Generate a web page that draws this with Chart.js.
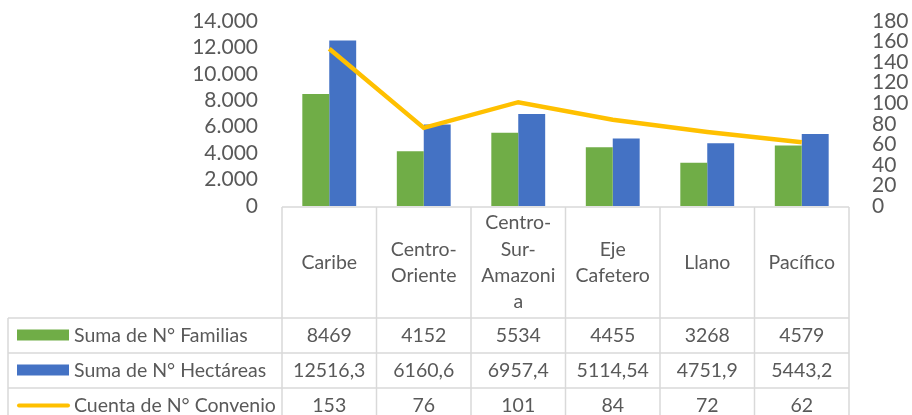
<!DOCTYPE html>
<html>
<head>
<meta charset="utf-8">
<script src="https://cdn.jsdelivr.net/npm/chart.js@4"></script>
<style>
  html, body { margin: 0; padding: 0; background: #fff; }
  canvas { display: block; }
</style>
</head>
<body>
<canvas id="myChart" width="912" height="415"></canvas>
<script>
// data
var categories = [['Caribe'], ['Centro-', 'Oriente'], ['Centro-', 'Sur-', 'Amazoni', 'a'], ['Eje', 'Cafetero'], ['Llano'], ['Pacífico']];
var familias = [8469, 4152, 5534, 4455, 3268, 4579];
var hectareas = [12516.3, 6160.6, 6957.4, 5114.54, 4751.9, 5443.2];
var convenios = [153, 76, 101, 84, 72, 62];
var seriesNames = ['Suma de N° Familias', 'Suma de N° Hectáreas', 'Cuenta de N° Convenio'];
var leftTicks = [0, 2000, 4000, 6000, 8000, 10000, 12000, 14000];
var rightTicks = [0, 20, 40, 60, 80, 100, 120, 140, 160, 180];

var FONT = 'Lato';
var TEXT = '#595959';
var GRID = '#D9D9D9';

function miles(v) {
  // 14000 -> 14.000
  return String(v).replace(/\B(?=(\d{3})+(?!\d))/g, '.');
}
function decimal(v) {
  return String(v).replace('.', ',');
}

var dataTable = {
  id: 'dataTable',
  afterDraw: function(chart) {
    var ctx = chart.ctx;
    var area = chart.chartArea;
    var xs = chart.scales.x;
    var n = categories.length;
    var colW = (area.right - area.left) / n;
    var top = area.bottom + 1;
    var headerBottom = top + 111;
    var rowH = 35;
    var legendLeft = 8;

    ctx.save();
    ctx.strokeStyle = GRID;
    ctx.lineWidth = 1.5;
    ctx.beginPath();
    ctx.moveTo(area.left, top); ctx.lineTo(area.right, top);
    for (var r = 0; r < 4; r++) {
      var y = headerBottom + r * rowH;
      ctx.moveTo(legendLeft, y); ctx.lineTo(area.right, y);
    }
    for (var i = 0; i <= n; i++) {
      var x = area.left + i * colW;
      ctx.moveTo(x, top); ctx.lineTo(x, chart.height);
    }
    ctx.moveTo(legendLeft, headerBottom); ctx.lineTo(legendLeft, chart.height);
    ctx.stroke();

    ctx.fillStyle = TEXT;
    ctx.font = '19.5px ' + FONT;
    ctx.textAlign = 'center';
    ctx.textBaseline = 'middle';
    var lineH = 26.3;
    categories.forEach(function(lines, i) {
      var cx = xs.getPixelForValue(i);
      var cy = (top + headerBottom) / 2 - (lines.length - 1) * lineH / 2;
      lines.forEach(function(t, k) { ctx.fillText(t, cx, cy + k * lineH); });
    });

    var rows = [familias.map(String), hectareas.map(decimal), convenios.map(String)];
    rows.forEach(function(vals, r) {
      var cy = headerBottom + r * rowH + rowH / 2;
      vals.forEach(function(t, i) {
        ctx.fillText(t, xs.getPixelForValue(i), cy);
      });
    });

    // legend keys
    ctx.textAlign = 'left';
    for (var r2 = 0; r2 < 3; r2++) {
      var cy2 = headerBottom + r2 * rowH + rowH / 2;
      var ds = chart.data.datasets[r2];
      if (r2 < 2) {
        ctx.fillStyle = ds.backgroundColor;
        ctx.fillRect(17, cy2 - 6, 52, 11);
      } else {
        ctx.strokeStyle = ds.borderColor;
        ctx.lineWidth = 4;
        ctx.lineCap = 'round';
        ctx.beginPath();
        ctx.moveTo(19, cy2); ctx.lineTo(68, cy2);
        ctx.stroke();
      }
      ctx.fillStyle = TEXT;
      ctx.fillText(seriesNames[r2], 74, cy2);
    }
    ctx.restore();
  }
};

var chart1 = document.getElementById('myChart').getContext('2d');

new Chart(chart1, {
  type: 'bar',
  data: {
    labels: categories.map(function(l) { return l.join(''); }),
    datasets: [{
      label: seriesNames[0],
      backgroundColor: '#70AD47',
      data: familias,
      yAxisID: 'y',
      order: 2
    },
    {
      label: seriesNames[1],
      backgroundColor: '#4472C4',
      data: hectareas,
      yAxisID: 'y',
      order: 2
    },
    {
      type: 'line',
      label: seriesNames[2],
      borderColor: '#FFC000',
      backgroundColor: '#FFC000',
      borderWidth: 4.5,
      pointRadius: 0,
      tension: 0,
      data: convenios,
      yAxisID: 'y1',
      order: 1
    }]
  },
  options: {
    responsive: false,
    animation: false,
    devicePixelRatio: 1,
    layout: { padding: { top: 21, bottom: 209, left: 0, right: 0 } },
    datasets: { bar: { barPercentage: 1, categoryPercentage: 0.57 } },
    plugins: { legend: { display: false }, tooltip: { enabled: false } },
    scales: {
      x: { display: false, offset: true, grid: { display: false } },
      y: {
        position: 'left',
        min: 0, max: 14000,
        afterBuildTicks: function(s) { s.ticks = leftTicks.map(function(v) { return { value: v }; }); },
        afterFit: function(s) { s.width = 282; },
        grid: { display: false, drawTicks: true, tickLength: 24 },
        border: { display: false },
        ticks: { color: TEXT, padding: 0, autoSkip: false, font: { family: FONT, size: 21 }, callback: function(v) { return miles(v); } }
      },
      y1: {
        position: 'right',
        min: 0, max: 180,
        afterBuildTicks: function(s) { s.ticks = rightTicks.map(function(v) { return { value: v }; }); },
        afterFit: function(s) { s.width = 63; },
        grid: { display: false, drawTicks: true, tickLength: 23 },
        border: { display: false },
        ticks: { color: TEXT, padding: 0, autoSkip: false, font: { family: FONT, size: 21 } }
      }
    }
  },
  plugins: [dataTable]
});
</script>
</body>
</html>
